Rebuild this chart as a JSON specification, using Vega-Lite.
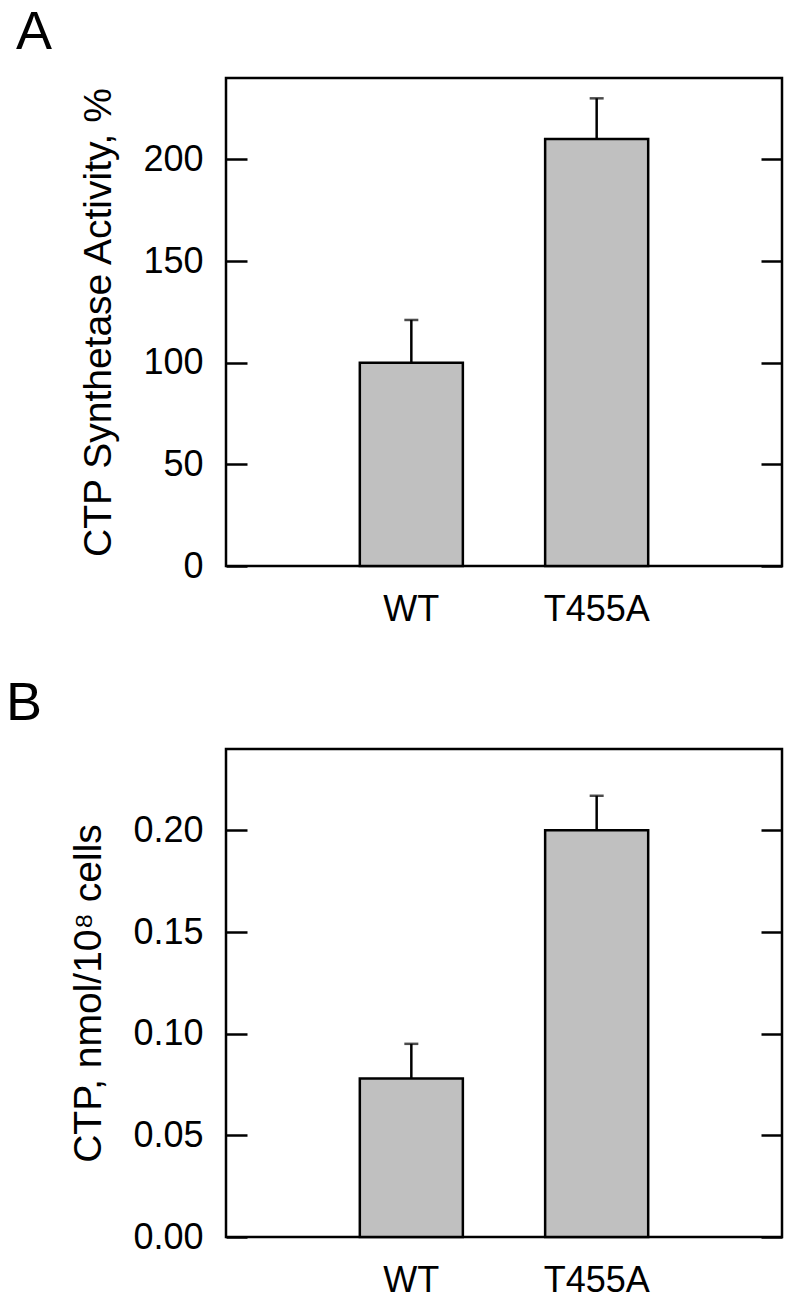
{
  "$schema": "https://vega.github.io/schema/vega-lite/v6.json",
  "padding": {"left": 4, "top": 4, "right": 5, "bottom": 5},
  "background": "white",
  "config": {
    "font": "Liberation Sans",
    "view": {"stroke": "black", "strokeWidth": 2.5},
    "axis": {
      "domain": false,
      "grid": false,
      "labelFont": "Liberation Sans",
      "labelFontSize": 36,
      "labelColor": "black",
      "titleFont": "Liberation Sans",
      "titleFontSize": 39,
      "titleFontWeight": "normal",
      "titleColor": "black",
      "tickColor": "black",
      "tickWidth": 2.5
    },
    "title": {"fontSize": 54, "fontWeight": "normal", "anchor": "start", "color": "black", "font": "Liberation Sans"}
  },
  "spacing": 46,
  "vconcat": [
    {
      "width": 556,
      "height": 488,
      "title": {"text": "A", "dx": -64, "offset": 18},
      "data": {"values": [
        {"strain": "WT", "value": 100, "upper": 121},
        {"strain": "T455A", "value": 210, "upper": 230}
      ]},
      "encoding": {
        "x": {"field": "strain", "type": "nominal", "sort": ["WT", "T455A"],
          "scale": {"paddingInner": 0.444, "paddingOuter": 0.722},
          "axis": {"title": null, "labelAngle": 0, "ticks": false, "labelPadding": 26}}
      },
      "layer": [
        {
          "mark": {"type": "bar", "fill": "#c0c0c0", "stroke": "black", "strokeWidth": 2.5},
          "encoding": {
            "y": {"field": "value", "type": "quantitative", "scale": {"domain": [0, 240], "nice": false},
              "axis": {"title": "CTP Synthetase Activity, %", "tickSize": -21, "labelPadding": 44, "values": [0, 50, 100, 150, 200], "titlePadding": 24}}
          }
        },
        {
          "mark": {"type": "rule", "color": "black", "strokeWidth": 2.5},
          "encoding": {
            "y": {"field": "value", "type": "quantitative",
              "axis": {"orient": "right", "labels": false, "title": null, "tickSize": -21, "values": [0, 50, 100, 150, 200]}},
            "y2": {"field": "upper"}
          }
        },
        {
          "mark": {"type": "tick", "color": "black", "size": 14, "thickness": 2.5},
          "encoding": {
            "y": {"field": "upper", "type": "quantitative", "axis": null}
          }
        }
      ],
      "resolve": {"axis": {"y": "independent"}}
    },
    {
      "width": 556,
      "height": 488,
      "title": {"text": "B", "dx": -64, "offset": 18},
      "data": {"values": [
        {"strain": "WT", "value": 0.078, "upper": 0.095},
        {"strain": "T455A", "value": 0.200, "upper": 0.217}
      ]},
      "encoding": {
        "x": {"field": "strain", "type": "nominal", "sort": ["WT", "T455A"],
          "scale": {"paddingInner": 0.444, "paddingOuter": 0.722},
          "axis": {"title": null, "labelAngle": 0, "ticks": false, "labelPadding": 26}}
      },
      "layer": [
        {
          "mark": {"type": "bar", "fill": "#c0c0c0", "stroke": "black", "strokeWidth": 2.5},
          "encoding": {
            "y": {"field": "value", "type": "quantitative", "scale": {"domain": [0, 0.24], "nice": false},
              "axis": {"title": "CTP, nmol/10⁸ cells", "tickSize": -21, "labelPadding": 44, "values": [0, 0.05, 0.1, 0.15, 0.2], "format": ".2f", "titlePadding": 24}}
          }
        },
        {
          "mark": {"type": "rule", "color": "black", "strokeWidth": 2.5},
          "encoding": {
            "y": {"field": "value", "type": "quantitative",
              "axis": {"orient": "right", "labels": false, "title": null, "tickSize": -21, "values": [0, 0.05, 0.1, 0.15, 0.2]}},
            "y2": {"field": "upper"}
          }
        },
        {
          "mark": {"type": "tick", "color": "black", "size": 14, "thickness": 2.5},
          "encoding": {
            "y": {"field": "upper", "type": "quantitative", "axis": null}
          }
        }
      ],
      "resolve": {"axis": {"y": "independent"}}
    }
  ]
}
